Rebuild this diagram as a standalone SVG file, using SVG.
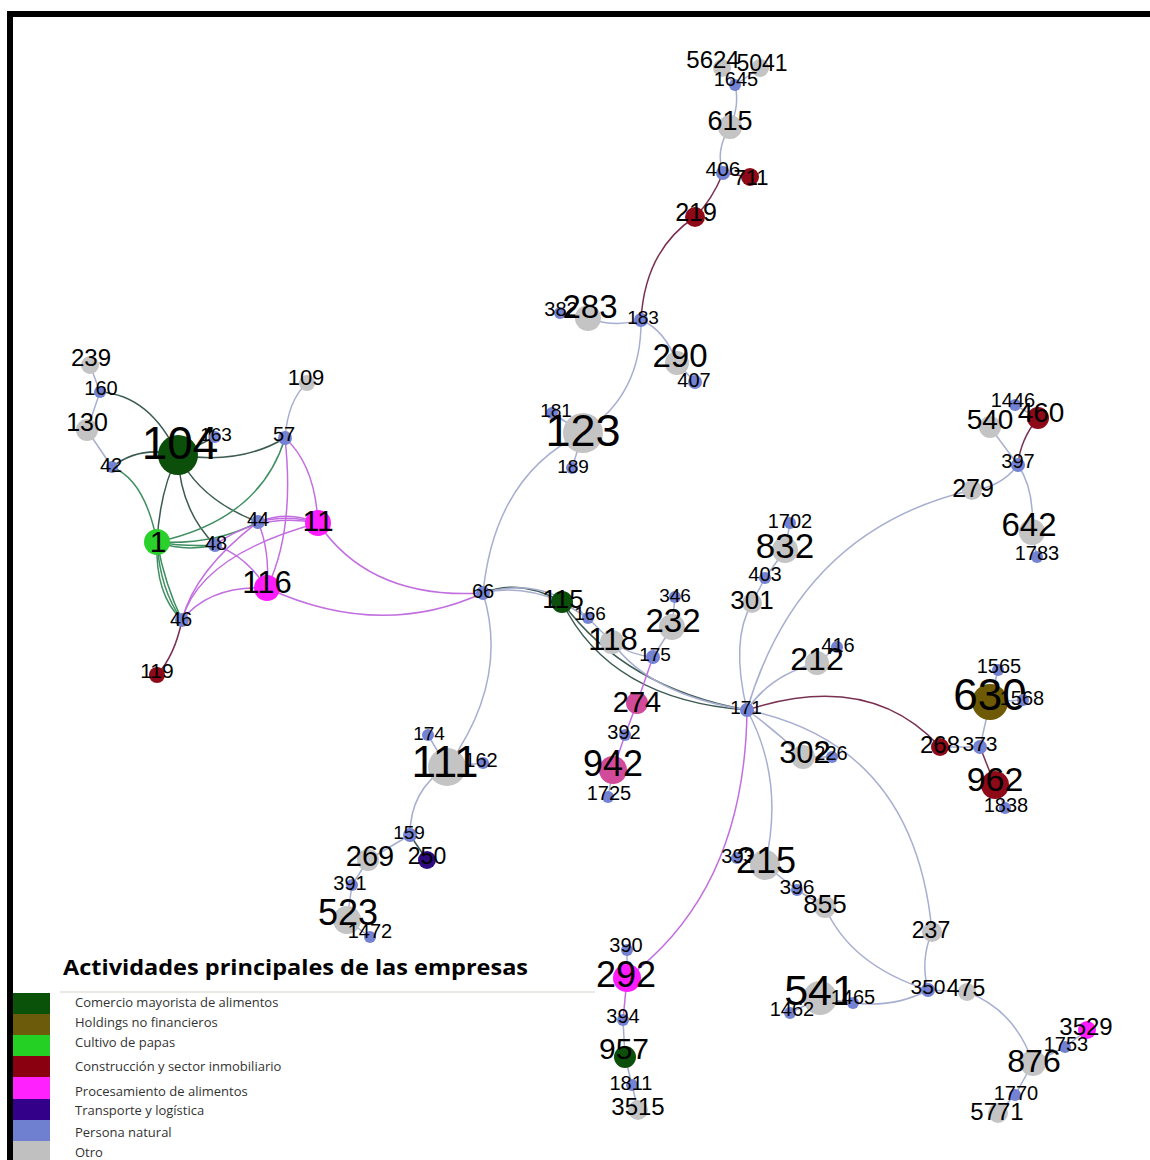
<svg xmlns="http://www.w3.org/2000/svg" width="1150" height="1160" viewBox="0 0 1150 1160">
<style>
.e{fill:none;stroke-width:1.5}
.L{stroke:#a8aed0}
.P{stroke:#c26ee0}
.G{stroke:#3f8f62}
.D{stroke:#3b5a52}
.R{stroke:#7a3052}
.cD{fill:#0b4f0b}.cO{fill:#6e5a05}.cG{fill:#2bd12b}.cR{fill:#8e0a18}.cM{fill:#ff1cff}.cK{fill:#d24b9b}.cI{fill:#2f0a80}.cB{fill:#7482d4}.cX{fill:#c4c4c4}
text{font-family:"Liberation Sans",Arial,sans-serif;fill:#000;text-anchor:middle}
.lg{font-family:"Open Sans","DejaVu Sans",sans-serif;font-size:13px;fill:#333;text-anchor:start}
</style>
<rect width="1150" height="1160" fill="#fff"/>
<path d="M10,1160 V14 H1150" fill="none" stroke="#000" stroke-width="6"/>
<g id="connectors">
<path class="e L" d="M722,68 L735,85"/>
<path class="e L" d="M760,68 L735,85"/>
<path class="e L" d="M735,85 Q740,105 730,127"/>
<path class="e L" d="M730,127 Q715,150 723,173"/>
<path class="e R" d="M723,173 L750,177"/>
<path class="e R" d="M723,173 Q712,200 695,217"/>
<path class="e R" d="M695,217 Q645,250 641,320"/>
<path class="e L" d="M560,313 L588,318"/>
<path class="e L" d="M588,318 Q615,328 641,320"/>
<path class="e L" d="M641,320 Q665,330 677,363"/>
<path class="e L" d="M677,363 L695,382"/>
<path class="e L" d="M641,320 Q642,395 583,433"/>
<path class="e L" d="M583,433 L552,413"/>
<path class="e L" d="M583,433 L572,468"/>
<path class="e L" d="M583,433 Q495,475 483,593"/>
<path class="e L" d="M90,365 L100,392"/>
<path class="e L" d="M100,392 L87,430"/>
<path class="e L" d="M87,430 L112,467"/>
<path class="e D" d="M100,392 Q150,395 178,455"/>
<path class="e D" d="M112,467 Q140,445 178,455"/>
<path class="e D" d="M178,455 L215,437"/>
<path class="e D" d="M178,455 Q240,465 285,438"/>
<path class="e G" d="M112,467 Q145,480 157,542"/>
<path class="e D" d="M178,455 Q160,490 157,542"/>
<path class="e D" d="M178,455 Q180,510 215,545"/>
<path class="e D" d="M178,455 Q200,500 258,522"/>
<path class="e L" d="M285,438 Q288,400 307,383"/>
<path class="e G" d="M285,438 Q260,520 157,542"/>
<path class="e P" d="M285,438 Q315,465 318,523"/>
<path class="e P" d="M285,438 Q295,530 267,588"/>
<path class="e G" d="M157,542 Q185,552 215,545"/>
<path class="e G" d="M157,542 Q185,547 215,545"/>
<path class="e G" d="M157,542 Q215,545 258,522"/>
<path class="e G" d="M157,542 Q160,590 182,620"/>
<path class="e G" d="M157,542 Q165,585 182,620"/>
<path class="e G" d="M157,542 Q155,595 182,620"/>
<path class="e P" d="M258,522 Q288,510 318,523"/>
<path class="e P" d="M258,522 Q288,514 318,523"/>
<path class="e P" d="M258,522 Q270,550 267,588"/>
<path class="e P" d="M215,545 Q260,512 318,523"/>
<path class="e P" d="M215,545 Q245,555 267,588"/>
<path class="e P" d="M182,620 Q210,585 267,588"/>
<path class="e P" d="M182,620 Q200,555 318,523"/>
<path class="e P" d="M182,620 Q195,570 258,522"/>
<path class="e R" d="M182,620 Q175,655 157,675"/>
<path class="e P" d="M318,523 Q370,600 483,593"/>
<path class="e P" d="M267,588 Q380,640 483,593"/>
<path class="e D" d="M483,593 Q520,578 562,602"/>
<path class="e L" d="M483,593 Q520,584 562,602"/>
<path class="e L" d="M483,593 Q545,575 588,618"/>
<path class="e D" d="M562,602 Q610,700 747,710"/>
<path class="e D" d="M562,602 Q625,688 747,710"/>
<path class="e L" d="M562,602 L588,618"/>
<path class="e L" d="M588,618 L612,642"/>
<path class="e L" d="M612,642 Q650,695 747,710"/>
<path class="e L" d="M612,642 Q630,655 653,657"/>
<path class="e L" d="M653,657 L672,627"/>
<path class="e L" d="M672,627 L675,597"/>
<path class="e P" d="M653,657 L637,703"/>
<path class="e P" d="M637,703 L625,735"/>
<path class="e P" d="M625,735 L613,770"/>
<path class="e L" d="M613,770 L608,797"/>
<path class="e L" d="M483,593 Q510,680 447,767"/>
<path class="e L" d="M447,767 L428,735"/>
<path class="e L" d="M447,767 L483,763"/>
<path class="e L" d="M447,767 Q410,790 410,835"/>
<path class="e D" d="M410,835 L427,860"/>
<path class="e L" d="M410,835 L368,860"/>
<path class="e L" d="M368,860 L352,885"/>
<path class="e L" d="M352,885 L347,920"/>
<path class="e L" d="M347,920 L370,937"/>
<path class="e L" d="M747,710 Q730,640 752,603"/>
<path class="e L" d="M752,603 L765,578"/>
<path class="e L" d="M765,578 L785,550"/>
<path class="e L" d="M785,550 L790,523"/>
<path class="e L" d="M747,710 Q800,530 972,490"/>
<path class="e L" d="M972,490 Q1000,488 1018,465"/>
<path class="e L" d="M1018,465 L990,427"/>
<path class="e R" d="M1018,465 Q1020,440 1038,418"/>
<path class="e L" d="M1038,418 L1015,405"/>
<path class="e L" d="M1018,465 Q1035,490 1032,532"/>
<path class="e L" d="M1032,532 L1037,557"/>
<path class="e L" d="M747,710 Q770,675 817,663"/>
<path class="e L" d="M817,663 L837,647"/>
<path class="e R" d="M747,710 Q870,670 940,747"/>
<path class="e L" d="M940,747 L980,747"/>
<path class="e L" d="M980,747 L990,702"/>
<path class="e R" d="M980,747 L995,785"/>
<path class="e L" d="M995,785 L1005,808"/>
<path class="e L" d="M990,702 L998,670"/>
<path class="e L" d="M990,702 L1023,700"/>
<path class="e L" d="M747,710 Q775,730 803,757"/>
<path class="e L" d="M803,757 L832,757"/>
<path class="e L" d="M747,710 Q915,745 932,932"/>
<path class="e L" d="M747,710 Q785,780 765,865"/>
<path class="e P" d="M747,710 Q745,890 627,978"/>
<path class="e L" d="M765,865 L737,858"/>
<path class="e L" d="M765,865 L797,890"/>
<path class="e L" d="M797,890 L825,907"/>
<path class="e L" d="M825,907 Q850,965 928,990"/>
<path class="e L" d="M932,932 Q920,960 928,990"/>
<path class="e L" d="M928,990 L967,992"/>
<path class="e L" d="M928,990 Q895,1008 853,1003"/>
<path class="e L" d="M853,1003 L820,998"/>
<path class="e L" d="M820,998 L790,1013"/>
<path class="e L" d="M967,992 Q1015,1010 1033,1063"/>
<path class="e L" d="M1033,1063 L1065,1047"/>
<path class="e L" d="M1065,1047 L1087,1030"/>
<path class="e L" d="M1033,1063 L1015,1095"/>
<path class="e L" d="M1015,1095 L998,1113"/>
<path class="e L" d="M627,978 L627,950"/>
<path class="e P" d="M627,978 L623,1020"/>
<path class="e L" d="M623,1020 L625,1057"/>
<path class="e L" d="M625,1057 L632,1085"/>
<path class="e L" d="M632,1085 L638,1110"/>
</g>
<g id="nodes">
<g id="n5624"><circle class="cX" cx="722" cy="68" r="9"/><text x="713" y="68" font-size="24">5624</text></g>
<g id="n5041"><circle class="cX" cx="760" cy="68" r="9"/><text x="762" y="71" font-size="23">5041</text></g>
<g id="n1645"><circle class="cB" cx="735" cy="85" r="6"/><text x="736" y="86" font-size="20">1645</text></g>
<g id="n615"><circle class="cX" cx="730" cy="127" r="12"/><text x="730" y="130" font-size="27">615</text></g>
<g id="n406"><circle class="cB" cx="723" cy="173" r="7"/><text x="723" y="176" font-size="21">406</text></g>
<g id="n711"><circle class="cR" cx="750" cy="177" r="9"/><text x="751" y="185" font-size="22">711</text></g>
<g id="n219"><circle class="cR" cx="695" cy="217" r="10"/><text x="696" y="221" font-size="25">219</text></g>
<g id="n382"><circle class="cB" cx="560" cy="313" r="6"/><text x="561" y="316" font-size="20">382</text></g>
<g id="n283"><circle class="cX" cx="588" cy="318" r="13"/><text x="590" y="318" font-size="33">283</text></g>
<g id="n183"><circle class="cB" cx="641" cy="320" r="7"/><text x="643" y="324" font-size="19">183</text></g>
<g id="n290"><circle class="cX" cx="677" cy="363" r="12"/><text x="680" y="367" font-size="33">290</text></g>
<g id="n407"><circle class="cB" cx="695" cy="382" r="7"/><text x="694" y="387" font-size="20">407</text></g>
<g id="n181"><circle class="cB" cx="552" cy="413" r="6"/><text x="556" y="417" font-size="19">181</text></g>
<g id="n123"><circle class="cX" cx="583" cy="433" r="20"/><text x="583" y="446" font-size="45">123</text></g>
<g id="n189"><circle class="cB" cx="572" cy="468" r="6"/><text x="573" y="473" font-size="19">189</text></g>
<g id="n239"><circle class="cX" cx="90" cy="365" r="9"/><text x="91" y="366" font-size="24">239</text></g>
<g id="n160"><circle class="cB" cx="100" cy="392" r="6"/><text x="101" y="395" font-size="20">160</text></g>
<g id="n130"><circle class="cX" cx="87" cy="430" r="11"/><text x="87" y="431" font-size="25">130</text></g>
<g id="n104"><circle class="cD" cx="178" cy="455" r="20"/><text x="180" y="459" font-size="46">104</text></g>
<g id="n163"><circle class="cB" cx="215" cy="437" r="6"/><text x="216" y="441" font-size="19">163</text></g>
<g id="n109"><circle class="cX" cx="307" cy="383" r="8"/><text x="306" y="385" font-size="22">109</text></g>
<g id="n57"><circle class="cB" cx="285" cy="438" r="7"/><text x="284" y="441" font-size="20">57</text></g>
<g id="n42"><circle class="cB" cx="112" cy="467" r="6"/><text x="111" y="472" font-size="20">42</text></g>
<g id="n44"><circle class="cB" cx="258" cy="522" r="7"/><text x="258" y="526" font-size="20">44</text></g>
<g id="n11"><circle class="cM" cx="318" cy="523" r="13"/><text x="318" y="531" font-size="30">11</text></g>
<g id="n1"><circle class="cG" cx="157" cy="542" r="13"/><text x="158" y="552" font-size="30">1</text></g>
<g id="n48"><circle class="cB" cx="215" cy="545" r="7"/><text x="216" y="550" font-size="20">48</text></g>
<g id="n116"><circle class="cM" cx="267" cy="588" r="13"/><text x="267" y="593" font-size="31">116</text></g>
<g id="n46"><circle class="cB" cx="182" cy="620" r="7"/><text x="181" y="626" font-size="20">46</text></g>
<g id="n119"><circle class="cR" cx="157" cy="675" r="8"/><text x="157" y="678" font-size="21">119</text></g>
<g id="n66"><circle class="cB" cx="483" cy="593" r="7"/><text x="483" y="598" font-size="20">66</text></g>
<g id="n115"><circle class="cD" cx="562" cy="602" r="11"/><text x="563" y="608" font-size="26">115</text></g>
<g id="n166"><circle class="cB" cx="588" cy="618" r="6"/><text x="590" y="620" font-size="19">166</text></g>
<g id="n346"><circle class="cB" cx="675" cy="597" r="6"/><text x="675" y="602" font-size="19">346</text></g>
<g id="n232"><circle class="cX" cx="672" cy="627" r="13"/><text x="673" y="632" font-size="33">232</text></g>
<g id="n118"><circle class="cX" cx="612" cy="642" r="12"/><text x="613" y="650" font-size="31">118</text></g>
<g id="n175"><circle class="cB" cx="653" cy="657" r="7"/><text x="655" y="661" font-size="19">175</text></g>
<g id="n274"><circle class="cK" cx="637" cy="703" r="11"/><text x="637" y="712" font-size="29">274</text></g>
<g id="n392"><circle class="cB" cx="625" cy="735" r="6"/><text x="624" y="739" font-size="20">392</text></g>
<g id="n942"><circle class="cK" cx="613" cy="770" r="14"/><text x="613" y="776" font-size="36">942</text></g>
<g id="n1725"><circle class="cB" cx="608" cy="797" r="6"/><text x="609" y="800" font-size="20">1725</text></g>
<g id="n174"><circle class="cB" cx="428" cy="735" r="6"/><text x="429" y="740" font-size="19">174</text></g>
<g id="n111"><circle class="cX" cx="447" cy="767" r="19"/><text x="445" y="777" font-size="44">111</text></g>
<g id="n162"><circle class="cB" cx="483" cy="763" r="6"/><text x="481" y="767" font-size="20">162</text></g>
<g id="n159"><circle class="cB" cx="410" cy="835" r="7"/><text x="409" y="839" font-size="19">159</text></g>
<g id="n250"><circle class="cI" cx="427" cy="860" r="9"/><text x="427" y="864" font-size="23">250</text></g>
<g id="n269"><circle class="cX" cx="368" cy="860" r="11"/><text x="370" y="866" font-size="29">269</text></g>
<g id="n391"><circle class="cB" cx="352" cy="885" r="6"/><text x="350" y="890" font-size="20">391</text></g>
<g id="n523"><circle class="cX" cx="347" cy="920" r="14"/><text x="348" y="925" font-size="36">523</text></g>
<g id="n1472"><circle class="cB" cx="370" cy="937" r="6"/><text x="370" y="938" font-size="20">1472</text></g>
<g id="n1702"><circle class="cB" cx="790" cy="523" r="6"/><text x="790" y="528" font-size="20">1702</text></g>
<g id="n832"><circle class="cX" cx="785" cy="550" r="13"/><text x="785" y="558" font-size="35">832</text></g>
<g id="n403"><circle class="cB" cx="765" cy="578" r="6"/><text x="765" y="581" font-size="20">403</text></g>
<g id="n301"><circle class="cX" cx="752" cy="603" r="10"/><text x="752" y="609" font-size="26">301</text></g>
<g id="n416"><circle class="cB" cx="837" cy="647" r="6"/><text x="838" y="652" font-size="20">416</text></g>
<g id="n212"><circle class="cX" cx="817" cy="663" r="12"/><text x="817" y="670" font-size="32">212</text></g>
<g id="n171"><circle class="cB" cx="747" cy="710" r="7"/><text x="746" y="714" font-size="19">171</text></g>
<g id="n302"><circle class="cX" cx="803" cy="757" r="12"/><text x="805" y="763" font-size="31">302</text></g>
<g id="n226"><circle class="cB" cx="832" cy="757" r="6"/><text x="831" y="760" font-size="20">226</text></g>
<g id="n1446"><circle class="cB" cx="1015" cy="405" r="6"/><text x="1013" y="407" font-size="20">1446</text></g>
<g id="n540"><circle class="cX" cx="990" cy="427" r="11"/><text x="990" y="429" font-size="28">540</text></g>
<g id="n460"><circle class="cR" cx="1038" cy="418" r="11"/><text x="1041" y="422" font-size="28">460</text></g>
<g id="n397"><circle class="cB" cx="1018" cy="465" r="7"/><text x="1018" y="468" font-size="20">397</text></g>
<g id="n279"><circle class="cX" cx="972" cy="490" r="10"/><text x="973" y="497" font-size="25">279</text></g>
<g id="n642"><circle class="cX" cx="1032" cy="532" r="13"/><text x="1029" y="536" font-size="33">642</text></g>
<g id="n1783"><circle class="cB" cx="1037" cy="557" r="6"/><text x="1037" y="560" font-size="20">1783</text></g>
<g id="n1565"><circle class="cB" cx="998" cy="670" r="6"/><text x="999" y="673" font-size="20">1565</text></g>
<g id="n630"><circle class="cO" cx="990" cy="702" r="18"/><text x="990" y="710" font-size="44">630</text></g>
<g id="n1568"><circle class="cB" cx="1023" cy="700" r="6"/><text x="1022" y="705" font-size="20">1568</text></g>
<g id="n268"><circle class="cR" cx="940" cy="747" r="9"/><text x="940" y="753" font-size="24">268</text></g>
<g id="n373"><circle class="cB" cx="980" cy="747" r="7"/><text x="980" y="751" font-size="21">373</text></g>
<g id="n962"><circle class="cR" cx="995" cy="785" r="14"/><text x="995" y="791" font-size="34">962</text></g>
<g id="n1838"><circle class="cB" cx="1005" cy="808" r="6"/><text x="1006" y="812" font-size="20">1838</text></g>
<g id="n393"><circle class="cB" cx="737" cy="858" r="6"/><text x="738" y="863" font-size="20">393</text></g>
<g id="n215"><circle class="cX" cx="765" cy="865" r="15"/><text x="766" y="873" font-size="36">215</text></g>
<g id="n396"><circle class="cB" cx="797" cy="890" r="6"/><text x="797" y="894" font-size="21">396</text></g>
<g id="n855"><circle class="cX" cx="825" cy="907" r="11"/><text x="825" y="913" font-size="26">855</text></g>
<g id="n237"><circle class="cX" cx="932" cy="932" r="10"/><text x="931" y="938" font-size="23">237</text></g>
<g id="n390"><circle class="cB" cx="627" cy="950" r="6"/><text x="626" y="952" font-size="20">390</text></g>
<g id="n292"><circle class="cM" cx="627" cy="978" r="14"/><text x="626" y="987" font-size="36">292</text></g>
<g id="n541"><circle class="cX" cx="820" cy="998" r="17"/><text x="820" y="1005" font-size="43">541</text></g>
<g id="n1462"><circle class="cB" cx="790" cy="1013" r="6"/><text x="792" y="1016" font-size="20">1462</text></g>
<g id="n1465"><circle class="cB" cx="853" cy="1003" r="6"/><text x="853" y="1004" font-size="20">1465</text></g>
<g id="n350"><circle class="cB" cx="928" cy="990" r="7"/><text x="928" y="994" font-size="21">350</text></g>
<g id="n475"><circle class="cX" cx="967" cy="992" r="9"/><text x="966" y="996" font-size="23">475</text></g>
<g id="n394"><circle class="cB" cx="623" cy="1020" r="6"/><text x="623" y="1023" font-size="20">394</text></g>
<g id="n957"><circle class="cD" cx="625" cy="1057" r="11"/><text x="624" y="1059" font-size="30">957</text></g>
<g id="n3529"><circle class="cM" cx="1087" cy="1030" r="9"/><text x="1086" y="1035" font-size="24">3529</text></g>
<g id="n1753"><circle class="cB" cx="1065" cy="1047" r="6"/><text x="1066" y="1051" font-size="20">1753</text></g>
<g id="n876"><circle class="cX" cx="1033" cy="1063" r="13"/><text x="1034" y="1072" font-size="32">876</text></g>
<g id="n1811"><circle class="cB" cx="632" cy="1085" r="6"/><text x="631" y="1090" font-size="20">1811</text></g>
<g id="n1770"><circle class="cB" cx="1015" cy="1095" r="6"/><text x="1016" y="1100" font-size="20">1770</text></g>
<g id="n3515"><circle class="cX" cx="638" cy="1110" r="10"/><text x="638" y="1115" font-size="24">3515</text></g>
<g id="n5771"><circle class="cX" cx="998" cy="1113" r="10"/><text x="997" y="1120" font-size="24">5771</text></g>
</g>
<g id="legend">
<line x1="60" y1="992" x2="595" y2="992" stroke="#e2e2da" stroke-width="1.5"/>
<text x="63" y="975" font-weight="bold" font-size="22" textLength="465" lengthAdjust="spacingAndGlyphs" style="text-anchor:start;font-family:'Open Sans','DejaVu Sans',sans-serif">Actividades principales de las empresas</text>
<rect x="13" y="993" width="37" height="21" fill="#0a520a"/>
<rect x="13" y="1014" width="37" height="21" fill="#6b5b0a"/>
<rect x="13" y="1035" width="37" height="21" fill="#25d025"/>
<rect x="13" y="1056" width="37" height="21" fill="#8b0010"/>
<rect x="13" y="1077" width="37" height="22" fill="#ff22ff"/>
<rect x="13" y="1099" width="37" height="21" fill="#33008a"/>
<rect x="13" y="1120" width="37" height="21" fill="#7080d0"/>
<rect x="13" y="1141" width="37" height="19" fill="#c0c0c0"/>
<text class="lg" x="75" y="1007">Comercio mayorista de alimentos</text>
<text class="lg" x="75" y="1027">Holdings no financieros</text>
<text class="lg" x="75" y="1047">Cultivo de papas</text>
<text class="lg" x="75" y="1071">Construcción y sector inmobiliario</text>
<text class="lg" x="75" y="1096">Procesamiento de alimentos</text>
<text class="lg" x="75" y="1115">Transporte y logística</text>
<text class="lg" x="75" y="1137">Persona natural</text>
<text class="lg" x="75" y="1157">Otro</text>
</g>
</svg>
